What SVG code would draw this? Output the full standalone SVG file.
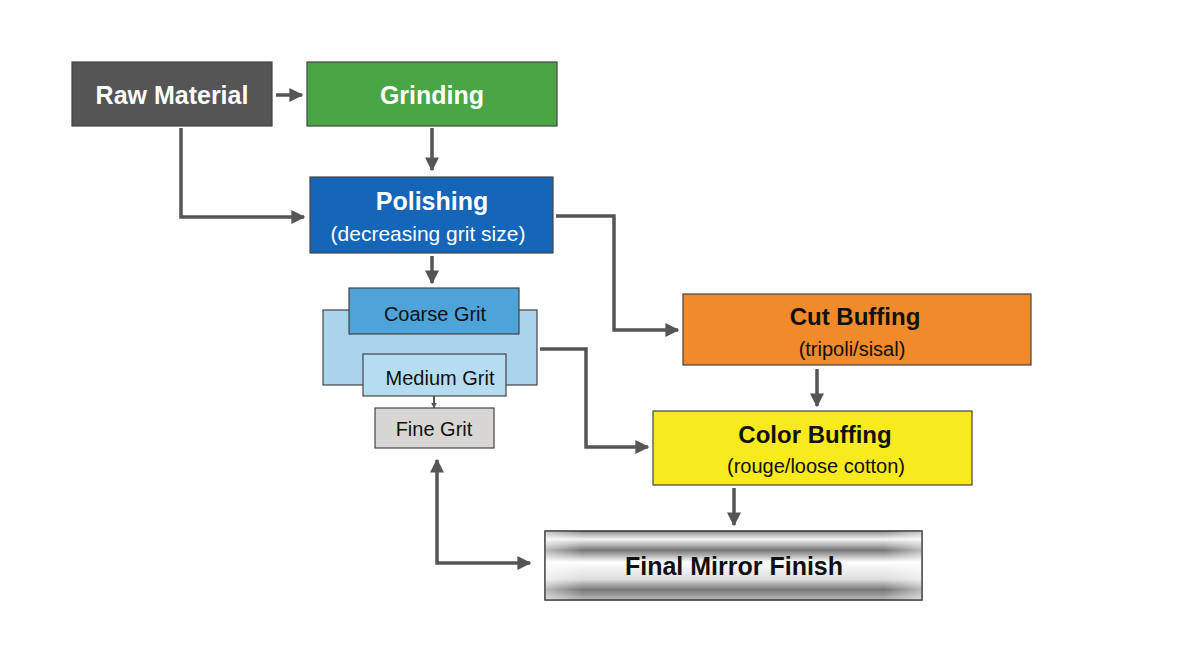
<svg xmlns="http://www.w3.org/2000/svg" width="1200" height="654" viewBox="0 0 1200 654">
<defs>
<marker id="ah" viewBox="0 0 10 10" refX="9" refY="5" markerWidth="4" markerHeight="4" orient="auto-start-reverse"><path d="M0,0L10,5L0,10z" fill="#555"/></marker>
<marker id="as" viewBox="0 0 10 10" refX="9" refY="5" markerWidth="3" markerHeight="3" orient="auto"><path d="M0,0L10,5L0,10z" fill="#555"/></marker>
<linearGradient id="chrome" x1="0" y1="0" x2="0" y2="1">
<stop offset="0" stop-color="#888"/><stop offset="0.12" stop-color="#f4f4f4"/><stop offset="0.28" stop-color="#777"/><stop offset="0.45" stop-color="#fff"/><stop offset="0.7" stop-color="#ddd"/><stop offset="0.85" stop-color="#777"/><stop offset="1" stop-color="#bbb"/>
</linearGradient>
<linearGradient id="chromeh" x1="0" y1="0" x2="1" y2="0">
<stop offset="0" stop-color="#fff" stop-opacity="0.5"/><stop offset="0.1" stop-color="#fff" stop-opacity="0"/><stop offset="0.9" stop-color="#fff" stop-opacity="0"/><stop offset="1" stop-color="#fff" stop-opacity="0.5"/>
</linearGradient>
</defs>
<style>
rect{stroke:#444;stroke-width:1.2}
text{font-family:"Liberation Sans",Arial,sans-serif;text-anchor:middle}
.b{font-weight:bold}
.c path{fill:none;stroke:#555;stroke-width:3.5;marker-end:url(#ah)}
.c .s{stroke-width:2;marker-end:url(#as)}
</style>
<rect width="1200" height="654" fill="#fff" style="stroke:none"/>
<g class="c">
<path d="M276,95H302"/>
<path d="M432,128V170"/>
<path d="M181,128V217H304"/>
<path d="M432,256V283"/>
<path d="M556,216H614V330H678"/>
<path d="M540,349H586V447H648"/>
<path d="M817,369V406"/>
<path d="M734,488V525"/>
<path class="s" d="M434,336V352"/>
<path class="s" d="M434,393V408"/>
<path d="M530,563H437V460" style="marker-start:url(#ah)"/>
</g>
<g id="raw"><rect x="72" y="62" width="200" height="64" fill="#555"/><text x="172" y="104" class="b" font-size="25" fill="#fff">Raw Material</text></g>
<g id="grinding"><rect x="307" y="62" width="250" height="64" fill="#4aa544"/><text x="432" y="104" class="b" font-size="25" fill="#fff">Grinding</text></g>
<g id="polishing"><rect x="310" y="177" width="243" height="76" fill="#1565b8"/><text x="432" y="210" class="b" font-size="25" fill="#fff">Polishing</text><text x="428" y="241" font-size="21" fill="#fff">(decreasing grit size)</text></g>
<g id="grits"><rect x="323" y="310" width="214" height="75" fill="#a9d4ec"/></g>
<g id="coarse"><rect x="349" y="288" width="170" height="46" fill="#4ea3d9"/><text x="435" y="321" font-size="20" fill="#111">Coarse Grit</text></g>
<g id="medium"><rect x="363" y="354" width="143" height="42" fill="#b6dcf1"/><text x="440" y="385" font-size="20" fill="#111">Medium Grit</text></g>
<g id="fine"><rect x="375" y="408" width="119" height="40" fill="#d8d6d2"/><text x="434" y="436" font-size="20" fill="#111">Fine Grit</text></g>
<g id="cut"><rect x="683" y="294" width="348" height="71" fill="#f08a2a"/><text x="855" y="325" class="b" font-size="24" fill="#111">Cut Buffing</text><text x="852" y="356" font-size="20" fill="#111">(tripoli/sisal)</text></g>
<g id="color"><rect x="653" y="411" width="319" height="74" fill="#f8ea1c"/><text x="815" y="443" class="b" font-size="24" fill="#111">Color Buffing</text><text x="816" y="473" font-size="20" fill="#111">(rouge/loose cotton)</text></g>
<g id="final"><rect x="545" y="531" width="377" height="69" fill="url(#chrome)"/><rect x="545" y="531" width="377" height="69" fill="url(#chromeh)"/><text x="734" y="575" class="b" font-size="25" fill="#111">Final Mirror Finish</text></g>
</svg>
